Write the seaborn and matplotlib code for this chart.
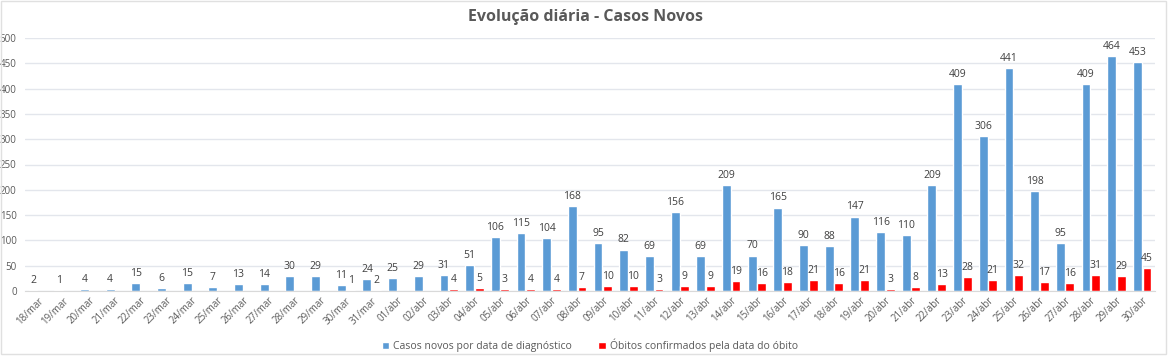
import pandas as pd
import seaborn as sns
import numpy as np
import matplotlib.pyplot as plt
from matplotlib.patches import Rectangle

datas = ['18/mar', '19/mar', '20/mar', '21/mar', '22/mar', '23/mar', '24/mar', '25/mar',
         '26/mar', '27/mar', '28/mar', '29/mar', '30/mar', '31/mar',
         '01/abr', '02/abr', '03/abr', '04/abr', '05/abr', '06/abr', '07/abr', '08/abr',
         '09/abr', '10/abr', '11/abr', '12/abr', '13/abr', '14/abr', '15/abr', '16/abr',
         '17/abr', '18/abr', '19/abr', '20/abr', '21/abr', '22/abr', '23/abr', '24/abr',
         '25/abr', '26/abr', '27/abr', '28/abr', '29/abr', '30/abr']
casos = [2, 1, 4, 4, 15, 6, 15, 7, 13, 14, 30, 29, 11, 24,
         25, 29, 31, 51, 106, 115, 104, 168, 95, 82, 69, 156, 69, 209, 70, 165,
         90, 88, 147, 116, 110, 209, 409, 306, 441, 198, 95, 409, 464, 453]
obitos = [np.nan] * 12 + [1, 2,
          np.nan, np.nan, 4, 5, 3, 4, 4, 7, 10, 10, 3, 9, 9, 19, 16, 18,
          21, 16, 21, 3, 8, 13, 28, 21, 32, 17, 16, 31, 29, 45]

serie_casos = 'Casos novos por data de diagnóstico'
serie_obitos = 'Óbitos confirmados pela data do óbito'

df = pd.DataFrame({'data': datas * 2,
                   'valor': casos + obitos,
                   'serie': [serie_casos] * len(datas) + [serie_obitos] * len(datas)})

sns.set_style('white')
plt.rcParams['font.family'] = ['Open Sans', 'DejaVu Sans']

fig = plt.figure(figsize=(11.72, 3.61), dpi=100)
ax = fig.add_axes([25 / 1172, 1 - 291 / 361, 1130 / 1172, 253 / 361])

sns.barplot(data=df, x='data', y='valor', hue='serie', order=datas,
            palette={serie_casos: '#5B9BD5', serie_obitos: '#FF0000'},
            saturation=1, width=0.75, gap=0.08, ax=ax, legend=True)

cor_texto = '#404040'
for cont in ax.containers:
    rotulos = ['' if np.isnan(v) else '%d' % v for v in cont.datavalues]
    ax.bar_label(cont, labels=rotulos, padding=3, fontsize=7.5, color=cor_texto)

ax.set_xlim(-0.5, len(datas) - 0.5)
ax.set_ylim(0, 500)
ax.set_yticks(np.arange(0, 501, 50))
ax.yaxis.grid(True, color='#E3E6EC', linewidth=1)
ax.set_axisbelow(True)
for s in ['top', 'right', 'left']:
    ax.spines[s].set_visible(False)
ax.spines['bottom'].set_color('#D9D9D9')
ax.set_xlabel('')
ax.set_ylabel('')
ax.tick_params(axis='y', labelsize=7, labelcolor='#595959', length=0, pad=6)
ax.tick_params(axis='x', labelsize=7, labelcolor='#595959', length=0, pad=3)
plt.setp(ax.get_xticklabels(), rotation=45, ha='right', rotation_mode='anchor')
ax.set_xticks(np.arange(-0.5, len(datas), 1), minor=True)
ax.tick_params(axis='x', which='minor', length=4, color='#D9D9D9')

ax.legend(loc='upper center', bbox_to_anchor=(0.5, -0.15), ncol=2, frameon=False,
          fontsize=7.5, labelcolor='#595959', handlelength=0.7, handleheight=0.7,
          columnspacing=2.5, handletextpad=0.4)

fig.suptitle('Evolução diária - Casos Novos', y=0.975, fontsize=11.5,
             fontweight='bold', color='#595959')

fig.patches.append(Rectangle((0.001, 0.02), 0.994, 0.978, transform=fig.transFigure,
                             fill=False, edgecolor='#E0E0E0', linewidth=1))

plt.savefig('out.png', dpi=100)
